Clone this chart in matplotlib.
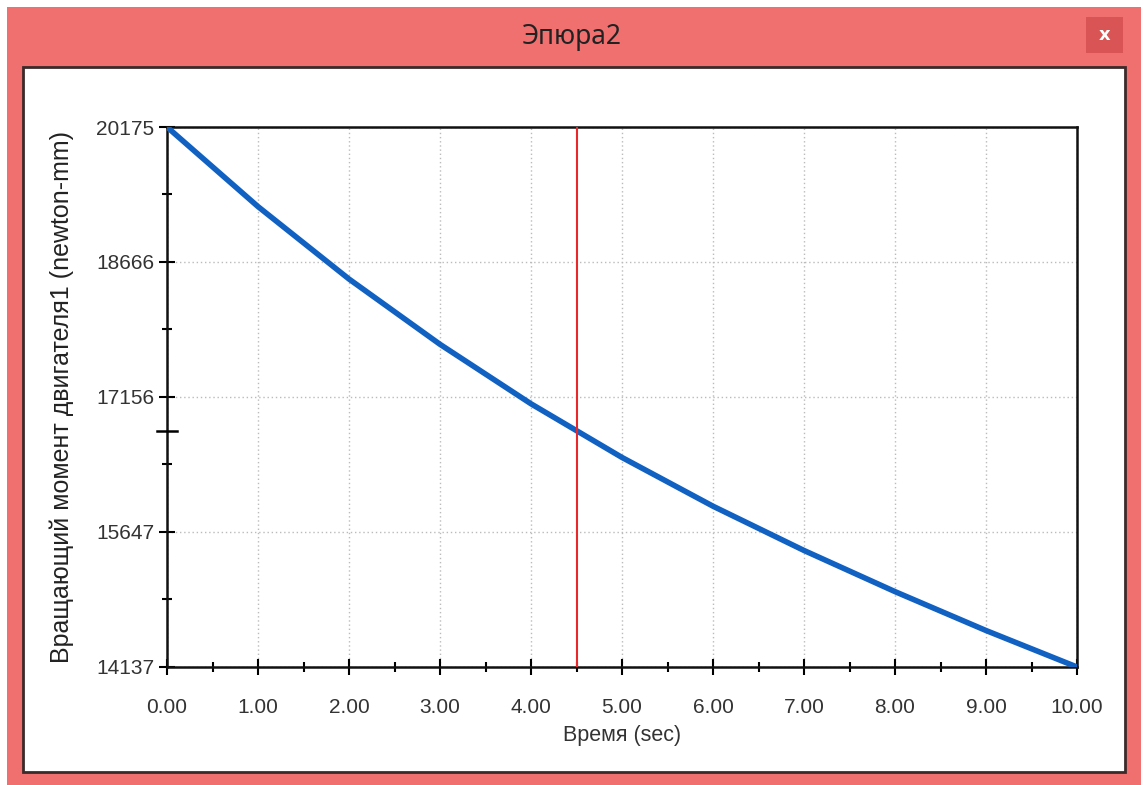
import numpy as np
import matplotlib.pyplot as plt
from matplotlib.patches import Rectangle
from matplotlib.transforms import blended_transform_factory

# Data
time_s = [0, 1, 2, 3, 4, 5, 6, 7, 8, 9, 10]
torque = [20175, 19285, 18475, 17745, 17080, 16480, 15935, 15440, 14980, 14545, 14137]
y_ticks = [14137, 15647, 17156, 18666, 20175]
x_ticks = [0, 1, 2, 3, 4, 5, 6, 7, 8, 9, 10]
cursor_t = 4.5

title = 'Эпюра2'
x_label = 'Время (sec)'
y_label = 'Вращающий момент двигателя1 (newton-mm)'

W, H = 1144, 785
fig = plt.figure(figsize=(W / 100, H / 100), dpi=100, facecolor='white')
plt.rcParams['font.family'] = ['Liberation Sans', 'DejaVu Sans']


def box(x0, y0, x1, y1, **kw):
    # pixel box (top-left origin) -> figure rectangle
    r = Rectangle((x0 / W, 1 - y1 / H), (x1 - x0) / W, (y1 - y0) / H,
                  transform=fig.transFigure, **kw)
    fig.add_artist(r)


# window frame
box(7, 7, 1141, 790, facecolor='#F07070', edgecolor='none', zorder=0)
box(23, 67, 1125, 772, facecolor='white', edgecolor='#3a2a2a', linewidth=2, zorder=0.5)
box(1086, 17, 1123, 53, facecolor='#D95454', edgecolor='none', zorder=1)
fig.text(1104.5 / W, 1 - 35 / H, 'x', color='white', fontsize=13, fontweight='bold',
         ha='center', va='center', family='DejaVu Sans')
fig.text(572 / W, 1 - 37 / H, title, color='#222222', fontsize=19,
         ha='center', va='center', family=['Noto Sans', 'DejaVu Sans'])

ax = fig.add_axes([167 / W, 1 - 667 / H, (1077 - 167) / W, (667 - 127) / H])
ax.set_zorder(2)

ax.plot(time_s, torque, color='#1061C2', linewidth=4, solid_capstyle='round',
        solid_joinstyle='round', zorder=3)
ax.axvline(cursor_t, color='#E8282A', linewidth=1.5, zorder=4)

ax.set_xlim(0, 10)
ax.set_ylim(y_ticks[0], y_ticks[-1])
ax.set_xticks(x_ticks)
ax.set_xticklabels([f'{v:.2f}' for v in x_ticks])
ax.set_xticks(np.arange(0.5, 10, 1.0), minor=True)
ax.set_yticks(y_ticks)
ax.set_yticklabels([str(v) for v in y_ticks])
ax.set_yticks([(a + b) / 2 for a, b in zip(y_ticks[:-1], y_ticks[1:])], minor=True)

ax.tick_params(which='major', direction='inout', length=12, width=1.5, color='black',
               labelsize=15, labelcolor='#333333')
ax.tick_params(which='minor', direction='inout', length=7, width=1.5, color='black')
ax.tick_params(axis='x', which='major', pad=16)
ax.tick_params(axis='y', which='major', pad=3)
ax.grid(which='major', color='#bbbbbb', linestyle=(0, (1, 2)), linewidth=1)

for s in ax.spines.values():
    s.set_linewidth(1.8)
    s.set_color('#111111')

# cursor value marker on the y axis
yc = np.interp(cursor_t, time_s, torque)
tr = blended_transform_factory(ax.transAxes, ax.transData)
ax.plot([-0.011, 0.011], [yc, yc], color='black', linewidth=1.8, transform=tr,
        clip_on=False, zorder=5)

ax.set_xlabel(x_label, fontsize=15.5, color='#333333', labelpad=6)
ax.set_ylabel(y_label, fontsize=18, color='#222222', labelpad=16)

fig.savefig('out.png', dpi=100, facecolor='white')
